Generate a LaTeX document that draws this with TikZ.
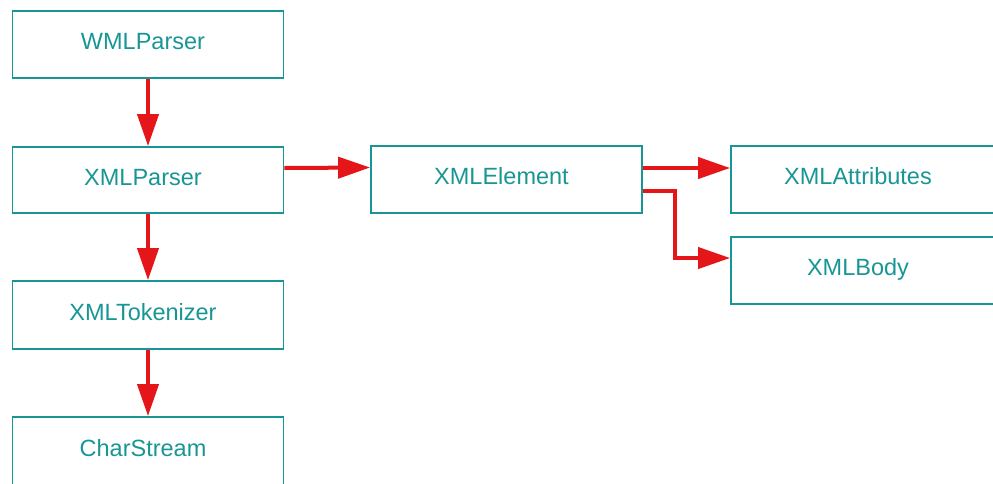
\documentclass[tikz,border=0pt]{standalone}
\usepackage{fontspec}
\setmainfont{Liberation Sans}
\usetikzlibrary{arrows.meta}
\definecolor{boxteal}{RGB}{24,150,150}
\definecolor{linkred}{RGB}{228,22,26}
\begin{document}
\begin{tikzpicture}[x=1pt,y=1pt,
  cls/.style={draw=boxteal,line width=1.8pt,fill=white,minimum width=271pt,
    text=boxteal,font=\fontsize{23.5}{26}\selectfont,inner sep=0pt,
    text height=17pt,text depth=6.2pt,
    execute at end node=\hspace*{10pt}},
  link/.style={draw=linkred,line width=4pt,
    -{Triangle[length=32pt,width=21pt]}}]
  \useasboundingbox (0,0) rectangle (993,-483);
  \clip (0,0) rectangle (993,-483);
  \fill[white] (0,0) rectangle (993,-483);
  % left column
  \node[cls,minimum height=67pt] (wml) at (148,-44.5) {WMLParser};
  \node[cls,minimum height=66pt] (xmlp) at (148,-180) {XMLParser};
  \node[cls,minimum height=68pt] (tok) at (148,-315) {XMLTokenizer};
  \node[cls,minimum height=68pt] (cs) at (148,-451) {CharStream};
  % middle and right
  \node[cls,minimum height=67pt] (elem) at (506.5,-179.5) {XMLElement};
  \node[cls,minimum height=67pt,minimum width=264pt] (attr) at (863,-179.5) {XMLAttributes};
  \node[cls,minimum height=67pt,minimum width=264pt] (body) at (863,-270.5) {XMLBody};
  % links
  \draw[link] (wml.south) -- (xmlp.north);
  \draw[link] (xmlp.south) -- (tok.north);
  \draw[link] (tok.south) -- (cs.north);
  \draw[link] ([yshift=12pt]xmlp.east) -- ([yshift=12pt]elem.west);
  \draw[link] ([yshift=11.5pt]elem.east) -- ([yshift=11.5pt]attr.west);
  \coordinate (bodyin) at ([yshift=12.5pt]body.west);
  \coordinate (bend) at (675,-191);
  \draw[link,line join=miter] ([yshift=-11.5pt]elem.east) -- (bend)
    -- (bend |- bodyin) -- (bodyin);
\end{tikzpicture}
\end{document}
